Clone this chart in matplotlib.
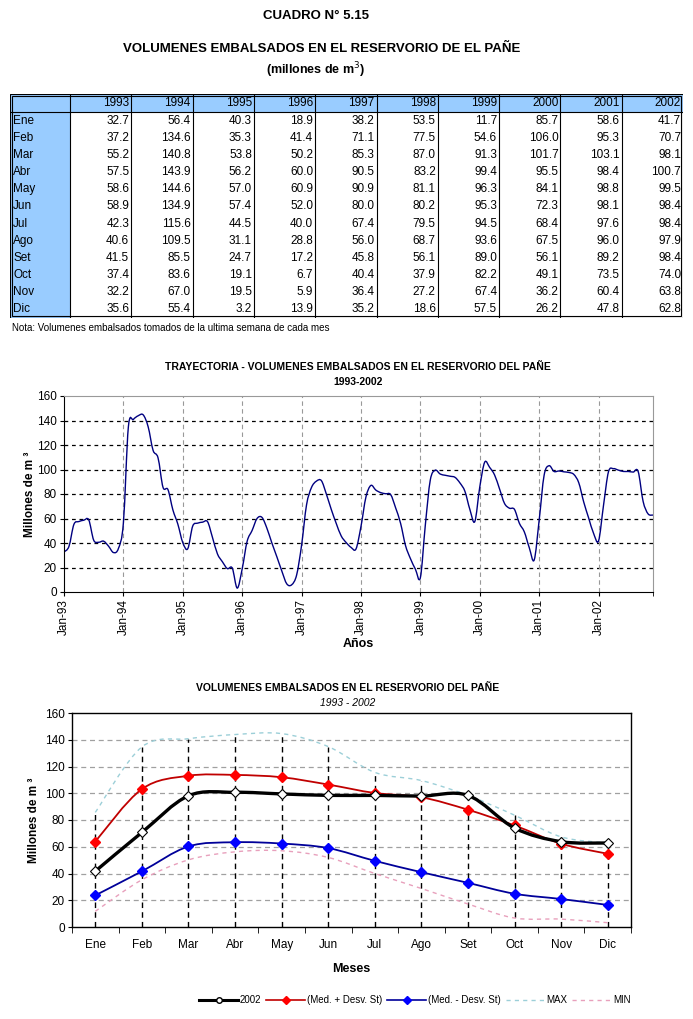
import numpy as np
import matplotlib.pyplot as plt
from matplotlib.path import Path
from matplotlib.patches import PathPatch, Rectangle
from matplotlib.lines import Line2D

plt.rcParams['font.family'] = ['Liberation Sans', 'DejaVu Sans']
NARROW = ['Liberation Sans Narrow', 'Liberation Sans', 'DejaVu Sans']

meses = ['Ene', 'Feb', 'Mar', 'Abr', 'May', 'Jun', 'Jul', 'Ago', 'Set', 'Oct', 'Nov', 'Dic']
anios = ['1993', '1994', '1995', '1996', '1997', '1998', '1999', '2000', '2001', '2002']
jan_labels = ['Jan-93', 'Jan-94', 'Jan-95', 'Jan-96', 'Jan-97', 'Jan-98', 'Jan-99', 'Jan-00', 'Jan-01', 'Jan-02']

v1993 = [32.7, 37.2, 55.2, 57.5, 58.6, 58.9, 42.3, 40.6, 41.5, 37.4, 32.2, 35.6]
v1994 = [56.4, 134.6, 140.8, 143.9, 144.6, 134.9, 115.6, 109.5, 85.5, 83.6, 67.0, 55.4]
v1995 = [40.3, 35.3, 53.8, 56.2, 57.0, 57.4, 44.5, 31.1, 24.7, 19.1, 19.5, 3.2]
v1996 = [18.9, 41.4, 50.2, 60.0, 60.9, 52.0, 40.0, 28.8, 17.2, 6.7, 5.9, 13.9]
v1997 = [38.2, 71.1, 85.3, 90.5, 90.9, 80.0, 67.4, 56.0, 45.8, 40.4, 36.4, 35.2]
v1998 = [53.5, 77.5, 87.0, 83.2, 81.1, 80.2, 79.5, 68.7, 56.1, 37.9, 27.2, 18.6]
v1999 = [11.7, 54.6, 91.3, 99.4, 96.3, 95.3, 94.5, 93.6, 89.0, 82.2, 67.4, 57.5]
v2000 = [85.7, 106.0, 101.7, 95.5, 84.1, 72.3, 68.4, 67.5, 56.1, 49.1, 36.2, 26.2]
v2001 = [58.6, 95.3, 103.1, 98.4, 98.8, 98.1, 97.6, 96.0, 89.2, 73.5, 60.4, 47.8]
v2002 = [41.7, 70.7, 98.1, 100.7, 99.5, 98.4, 98.4, 97.9, 98.4, 74.0, 63.8, 62.8]

tabla = np.array([v1993, v1994, v1995, v1996, v1997, v1998, v1999, v2000, v2001, v2002])
serie = tabla.flatten()
media = tabla.mean(axis=0)
desv = tabla.std(axis=0)
med_mas = media + desv
med_menos = media - desv
vmax = tabla.max(axis=0)
vmin = tabla.min(axis=0)

W, H = 693, 1019
fig = plt.figure(figsize=(W / 100, H / 100), dpi=100)


def px_axes(x0, y0, x1, y1):
    return fig.add_axes([x0 / W, 1 - y1 / H, (x1 - x0) / W, (y1 - y0) / H])


def smooth(ax, x, y, **kw):
    # excel-style smoothed line drawn as bezier segments through the points
    x = np.asarray(x, float)
    y = np.asarray(y, float)
    n = len(x)
    verts = [(x[0], y[0])]
    codes = [Path.MOVETO]
    for i in range(n - 1):
        xp, yp = x[max(i - 1, 0)], y[max(i - 1, 0)]
        xn, yn = x[min(i + 2, n - 1)], y[min(i + 2, n - 1)]
        c1 = (x[i] + (x[i + 1] - xp) / 6, y[i] + (y[i + 1] - yp) / 6)
        c2 = (x[i + 1] - (xn - x[i]) / 6, y[i + 1] - (yn - y[i]) / 6)
        verts += [c1, c2, (x[i + 1], y[i + 1])]
        codes += [Path.CURVE4] * 3
    ax.add_patch(PathPatch(Path(verts, codes), fill=False, **kw))


# ---------- titles ----------
fig.text(316 / W, 1 - 16 / H, 'CUADRO N° 5.15', ha='center', va='center',
         fontsize=9.5, fontweight='bold', family=NARROW)
fig.text(322 / W, 1 - 49 / H, 'VOLUMENES EMBALSADOS EN EL RESERVORIO DE EL PAÑE',
         ha='center', va='center', fontsize=9.5, fontweight='bold', family=NARROW)
fig.text(316 / W, 1 - 70 / H, '(millones de m$^3$)', ha='center', va='center',
         fontsize=9, fontweight='bold', family=NARROW)

# ---------- table ----------
tx0, ty0, tx1, ty1 = 10, 94, 683, 318
axt = px_axes(tx0, ty0, tx1, ty1)
axt.set_xlim(tx0, tx1)
axt.set_ylim(ty1, ty0)
axt.axis('off')
blue = '#99CCFF'
col_edges = [10, 70] + [70 + 61.3 * (k + 1) for k in range(10)]
row_h = (318 - 112) / 12
axt.add_patch(Rectangle((10, 94), 673, 18, color=blue, lw=0))
axt.add_patch(Rectangle((10, 94), 60, 224, color=blue, lw=0))
for xe in col_edges[1:-1]:
    axt.plot([xe, xe], [94, 318], color='black', lw=0.8)
axt.plot([10, 683], [112, 112], color='black', lw=0.8)
axt.add_patch(Rectangle((10, 94), 673, 224, fill=False, ec='black', lw=0.8))
axt.add_patch(Rectangle((12, 96), 669, 220, fill=False, ec='black', lw=0.8))
for j, a in enumerate(anios):
    axt.text(col_edges[j + 2] - 2, 103, a, ha='right', va='center', fontsize=8.5)
for i, m in enumerate(meses):
    yc = 112 + row_h * (i + 0.5)
    axt.text(13, yc, m, ha='left', va='center', fontsize=8.5)
    for j in range(10):
        axt.text(col_edges[j + 2] - 2, yc, f'{tabla[j, i]:.1f}', ha='right',
                 va='center', fontsize=8.5)
fig.text(12 / W, 1 - 328 / H,
         'Nota: Volumenes embalsados tomados de la ultima semana de cada mes',
         ha='left', va='center', fontsize=7)

# ---------- chart 1 ----------
ax1 = px_axes(64, 396, 653, 592)
meses_idx = np.arange(len(serie))
smooth(ax1, meses_idx, serie, ec='#000080', lw=1.0)
ax1.set_xlim(0, 119)
ax1.set_ylim(0, 160)
ax1.set_yticks(range(0, 161, 20))
ax1.set_xticks(range(0, 120, 12))
ax1.set_xticklabels(jan_labels, rotation=90)
ax1.set_xticks([119], minor=True)
for yv in range(20, 160, 20):
    ax1.axhline(yv, color='black', lw=0.9, ls=(0, (3, 3)), zorder=0)
for xv in range(12, 120, 12):
    ax1.axvline(xv, color='#999999', lw=0.8, ls=(0, (4, 3)), zorder=0)
ax1.spines['top'].set_color('#999999')
ax1.spines['right'].set_color('#999999')
ax1.tick_params(axis='both', which='both', direction='out', length=3, labelsize=8.5, pad=2)
ax1.set_ylabel('Millones de m ³', fontsize=8.5, fontweight='bold', labelpad=1)
ax1.set_xlabel('Años', fontsize=9, fontweight='bold', labelpad=2)
fig.text(358 / W, 1 - 367 / H,
         'TRAYECTORIA - VOLUMENES EMBALSADOS EN EL RESERVORIO DEL PAÑE',
         ha='center', va='center', fontsize=7.5, fontweight='bold', family=NARROW)
fig.text(358 / W, 1 - 382 / H, '1993-2002', ha='center', va='center',
         fontsize=7.5, fontweight='bold', family=NARROW)

# ---------- chart 2 ----------
ax2 = px_axes(72, 713, 631, 927)
xm = np.arange(12)
ax2.set_xlim(-0.5, 11.5)
ax2.set_ylim(0, 160)
for yv in range(20, 160, 20):
    ax2.axhline(yv, color='#A0A0A0', lw=0.9, ls=(0, (4, 3)), zorder=0)
ax2.vlines(xm, 0, vmax, colors='black', lw=1.0, linestyles=(0, (4, 3)), zorder=1)

smooth(ax2, xm, vmax, ec='#9CCFD8', lw=1.0, ls=(0, (3, 3)), zorder=2)
smooth(ax2, xm, vmin, ec='#E8A0BC', lw=1.0, ls=(0, (3, 3)), zorder=2)
smooth(ax2, xm, med_menos, ec='#000099', lw=1.3, zorder=3)
ax2.plot(xm, med_menos, ls='none', marker='D', ms=5, mfc='#0000FF', mec='#0000FF', zorder=4)
smooth(ax2, xm, med_mas, ec='#C00000', lw=1.3, zorder=3)
ax2.plot(xm, med_mas, ls='none', marker='D', ms=5, mfc='#FF0000', mec='#FF0000', zorder=4)
smooth(ax2, xm, v2002, ec='black', lw=2.4, zorder=5)
ax2.plot(xm, v2002, ls='none', marker='D', ms=5, mfc='white', mec='black', mew=0.8, zorder=6)

ax2.set_yticks(range(0, 161, 20))
ax2.set_xticks(xm)
ax2.set_xticklabels(meses, va='baseline')
ax2.set_xticks(np.arange(-0.5, 12, 1), minor=True)
ax2.tick_params(axis='x', which='major', length=0, pad=15, labelsize=8.5)
ax2.tick_params(axis='x', which='minor', direction='out', length=4)
ax2.tick_params(axis='y', direction='out', length=3, labelsize=8.5, pad=2)
for s in ax2.spines.values():
    s.set_linewidth(1.0)
ax2.set_ylabel('Millones de m ³', fontsize=8.5, fontweight='bold', labelpad=4)
ax2.set_xlabel('Meses', fontsize=9, fontweight='bold', labelpad=9)
fig.text(348 / W, 1 - 688 / H, 'VOLUMENES EMBALSADOS EN EL RESERVORIO DEL PAÑE',
         ha='center', va='center', fontsize=7.5, fontweight='bold', family=NARROW)
fig.text(348 / W, 1 - 703 / H, '1993 - 2002', ha='center', va='center',
         fontsize=7.5, style='italic', family=NARROW)

handles = [
    Line2D([], [], color='black', lw=2.2, marker='o', ms=4, mfc='white', mec='black'),
    Line2D([], [], color='#C00000', lw=1.2, marker='D', ms=4, mfc='#FF0000', mec='#FF0000'),
    Line2D([], [], color='#000099', lw=1.2, marker='D', ms=4, mfc='#0000FF', mec='#0000FF'),
    Line2D([], [], color='#9CCFD8', lw=1.0, ls=(0, (3, 3))),
    Line2D([], [], color='#E8A0BC', lw=1.0, ls=(0, (3, 3))),
]
fig.legend(handles, ['2002', '(Med. + Desv. St)', '(Med. - Desv. St)', 'MAX', 'MIN'],
           loc='center', bbox_to_anchor=(415 / W, 1 - 1000 / H), ncol=5,
           frameon=False, fontsize=7, handlelength=4, handletextpad=0.2,
           columnspacing=0.5)

fig.savefig('out.png', dpi=100)
